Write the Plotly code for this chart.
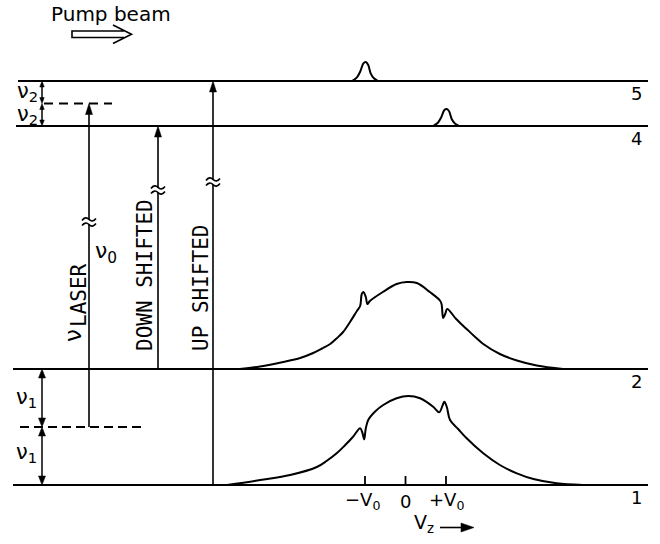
import plotly.graph_objects as go

# ---------------- data ----------------
LEVEL_LABELS = ["5", "4", "2", "1"]
LEVEL_POS = [81, 126, 369, 485]          # diagram energy coordinate of each level

VEL_TICKS = [-1, 0, 1]                   # in units of V0
VEL_TICK_TEXT = ["−V<sub>0</sub>", "0", "+V<sub>0</sub>"]

# velocity distribution on level 2 (v / V0, height)
UP_V = [-4.09, -3.59, -3.02, -2.60, -2.28, -2.06, -1.86, -1.69, -1.54, -1.37,
        -1.20, -1.12, -1.08, -1.04, -0.98, -0.94, -0.88, -0.56, -0.22, 0.03,
        0.28, 0.60, 0.85, 0.89, 0.93, 0.98, 1.03, 1.25, 1.51, 1.72,
        1.92, 2.33, 2.75, 3.24, 3.89]
UP_H = [0, 2.5, 7, 11, 16, 20.5, 25, 31, 37, 47,
        58, 63, 75, 77, 72, 65, 68, 77, 85, 87,
        86, 77, 68.5, 65, 51, 55, 60, 50, 40, 32,
        25, 15, 8.5, 3.5, 0]

# velocity distribution on level 1
LO_V = [-4.41, -3.59, -2.85, -2.19, -1.95, -1.70, -1.50, -1.30, -1.12, -1.07,
        -1.02, -0.98, -0.92, -0.75, -0.55, -0.22, 0.07, 0.36, 0.69, 0.83,
        0.92, 0.96, 1.02, 1.10, 1.30, 1.51, 1.92, 2.33, 2.75, 3.16,
        3.73, 4.38]
LO_H = [0, 5, 10, 18, 24, 31.7, 39.5, 48, 56.7, 53,
        45.7, 56.7, 65, 73.5, 80, 86.7, 89, 86.7, 78, 72.7,
        80, 83.3, 78, 65, 56, 46.7, 31.7, 20, 11.7, 6,
        1.7, 0]

# narrow velocity-selected populations on levels 5 and 4
PEAK_DV = [-0.34, -0.22, -0.14, -0.06, 0.0, 0.06, 0.12, 0.20, 0.30]
PEAK5_H = [0, 3.7, 9.3, 17.7, 19, 16, 7.7, 2.7, 0]
PEAK4_H = [0, 3.3, 8.5, 16, 17, 14.5, 7, 2.5, 0]
PEAK5_V = -0.98
PEAK4_V = 1.02

# ---------------- geometry / style ----------------
V_ORIGIN = 405.5
V_UNIT = 40.5
W, H = 660, 544
LEVEL_LEFT = [18, 16, 13, 13]
LEVEL_RIGHT = 648
BLACK = "#000000"
MONO = "DejaVu Sans Mono"
SANS = "DejaVu Sans"


def vx(v):
    return V_ORIGIN + V_UNIT * v


lev = dict(zip(LEVEL_LABELS, LEVEL_POS))
virt_up = (lev["5"] + lev["4"]) / 2
virt_lo = (lev["2"] + lev["1"]) / 2

fig = go.Figure()

# energy levels
for lab, y, x0 in zip(LEVEL_LABELS, LEVEL_POS, LEVEL_LEFT):
    fig.add_trace(go.Scatter(x=[x0, LEVEL_RIGHT], y=[y, y], mode="lines",
                             line=dict(color=BLACK, width=2.2), hoverinfo="skip"))


def profile(vs, hs, base, sm=1.0):
    fig.add_trace(go.Scatter(x=[vx(v) for v in vs], y=[base - h for h in hs],
                             mode="lines",
                             line=dict(color=BLACK, width=2, shape="spline", smoothing=sm),
                             hoverinfo="skip"))


profile(UP_V, UP_H, lev["2"])
profile(LO_V, LO_H, lev["1"])
profile([PEAK5_V + d for d in PEAK_DV], PEAK5_H, lev["5"], 0.8)
profile([PEAK4_V + d for d in PEAK_DV], PEAK4_H, lev["4"], 0.8)

shapes = []


def line(x0, y0, x1, y1, w=1.6, dash=None):
    d = dict(type="line", x0=x0, y0=y0, x1=x1, y1=y1, xref="x", yref="y",
             line=dict(color=BLACK, width=w))
    if dash:
        d["line"]["dash"] = dash
    shapes.append(d)


def head(x, ytip, up=True, w=7, h=11):
    s = h if up else -h
    shapes.append(dict(type="path", xref="x", yref="y",
                       path=f"M {x},{ytip} L {x - w / 2},{ytip + s} L {x + w / 2},{ytip + s} Z",
                       fillcolor=BLACK, line=dict(color=BLACK, width=0.5)))


def tilde_break(x, yb):
    for dy in (-2.6, 2.6):
        y = yb + dy
        shapes.append(dict(type="path", xref="x", yref="y",
                           path=f"M {x - 7},{y + 1} Q {x - 3.5},{y - 3.5} {x},{y} Q {x + 3.5},{y + 3.5} {x + 7},{y - 1}",
                           line=dict(color=BLACK, width=1.6)))


def transition(x, y_from, y_to, y_break):
    gap = 2.6
    line(x, y_from, x, y_break + gap)
    line(x, y_break - gap, x, y_to + 5)
    head(x, y_to)
    tilde_break(x, y_break)


# dashed virtual levels
line(44, virt_up, 112, virt_up, w=1.8, dash="9px,6px")
line(20, virt_lo, 142, virt_lo, w=1.8, dash="9px,5px")

# transitions
transition(89, virt_lo, virt_up, 222)
transition(158, lev["2"], lev["4"], 190)
transition(213, lev["1"], lev["5"], 182)

# spacing arrows nu1 / nu2
XS = 42
for (ya, yb, hh, ww) in [(lev["5"], virt_up, 6, 4.5), (virt_up, lev["4"], 6, 4.5),
                         (lev["2"], virt_lo, 9, 7), (virt_lo, lev["1"], 9, 7)]:
    line(XS, ya + hh - 1, XS, yb - hh + 1, w=1.5)
    head(XS, ya, up=True, w=ww, h=hh)
    head(XS, yb, up=False, w=ww, h=hh)

# velocity ticks
for v in VEL_TICKS:
    line(vx(v), lev["1"] - 9, vx(v), lev["1"], w=1.8)

# pump-beam hollow arrow
shapes.append(dict(type="path", xref="x", yref="y",
                   path="M 124,31 L 72,31 L 72,37.5 L 124,37.5 M 113,25 L 131.5,34.3 L 113,43.5",
                   line=dict(color=BLACK, width=1.6)))

# Vz arrow
line(440, 527.5, 464, 527.5, w=1.6)
shapes.append(dict(type="path", xref="x", yref="y",
                   path="M 474,527.5 L 461,523 L 461,532 Z", fillcolor=BLACK,
                   line=dict(color=BLACK, width=0.5)))

ann = []


def text(x, y, t, size=18, family=SANS, angle=0, xa="center", ya="middle"):
    ann.append(dict(x=x, y=y, xref="x", yref="y", text=t, showarrow=False,
                    font=dict(family=family, size=size, color=BLACK),
                    textangle=angle, xanchor=xa, yanchor=ya))


text(111, 14, "Pump beam", size=20)
for lab, y in zip(LEVEL_LABELS, LEVEL_POS):
    text(636, y + 12, lab, size=18)
for v, t in zip(VEL_TICKS, VEL_TICK_TEXT):
    text(vx(v) - (3 if v < 0 else 0), 501, t, size=18)
text(424, 523, "V<sub>z</sub>", size=19)

text(27, 92, "ν<sub>2</sub>", size=21)
text(27, 115, "ν<sub>2</sub>", size=21)
text(26, 398, "ν<sub>1</sub>", size=21)
text(26, 453, "ν<sub>1</sub>", size=21)
text(106, 252, "ν<sub>0</sub>", size=22)

text(73, 336, "ν", size=23, angle=-90)
text(79, 295, "LASER", size=21, family=MONO, angle=-90)
text(145, 275, "DOWN SHIFTED", size=21, family=MONO, angle=-90)
text(201, 288, "UP SHIFTED", size=21, family=MONO, angle=-90)

fig.update_layout(
    width=W, height=H, margin=dict(l=0, r=0, t=0, b=0),
    paper_bgcolor="white", plot_bgcolor="white", showlegend=False,
    xaxis=dict(range=[0, W], visible=False, fixedrange=True),
    yaxis=dict(range=[H, 0], visible=False, fixedrange=True),
    shapes=shapes, annotations=ann,
)

fig.write_html("out.html")
